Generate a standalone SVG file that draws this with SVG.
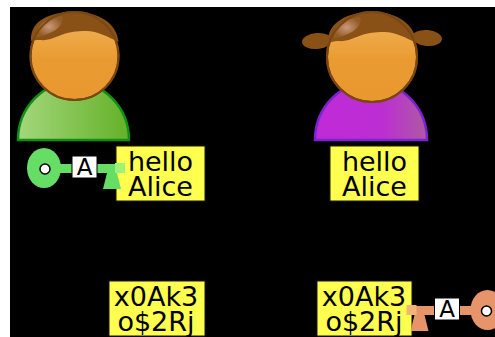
<svg xmlns="http://www.w3.org/2000/svg" xmlns:xlink="http://www.w3.org/1999/xlink" width="495" height="337" viewBox="0 0 495 337">
  <style>
    .face { stroke: #7a4612; stroke-width: 2; }
    .hair { fill: #8a5116; }
    .msg rect { fill: #ffff4f; stroke: #1a1a00; stroke-width: 1; }
    .msg text { font-family: "DejaVu Sans", sans-serif; font-size: 27px; fill: #000; text-anchor: middle; }
    .tag rect { fill: #fff; stroke: #000; stroke-width: 1; }
    .tag text { font-family: "DejaVu Sans", sans-serif; font-size: 23px; fill: #000; text-anchor: middle; }
    .key-green { fill: #66de66; color: #9cf27a; }
    .key-orange { fill: #e7946a; color: #f2b577; }
  </style>
  <defs>
    <linearGradient id="skin" x1="0" y1="0" x2="0" y2="1">
      <stop offset="0" stop-color="#f2b65c"/>
      <stop offset="0.55" stop-color="#e99a30"/>
      <stop offset="1" stop-color="#e8982e"/>
    </linearGradient>
    <linearGradient id="shirt-green" x1="0" y1="0" x2="1" y2="0">
      <stop offset="0" stop-color="#a3d77c"/>
      <stop offset="1" stop-color="#64b128"/>
    </linearGradient>
    <linearGradient id="shirt-purple" x1="0" y1="0" x2="1" y2="0">
      <stop offset="0" stop-color="#c02ad8"/>
      <stop offset="0.6" stop-color="#bc2ed2"/>
      <stop offset="1" stop-color="#ae5aa4"/>
    </linearGradient>
    <radialGradient id="shine" cx="0.5" cy="0.5" r="0.5">
      <stop offset="0" stop-color="#e6b8a8" stop-opacity="0.7"/>
      <stop offset="1" stop-color="#e6b8a8" stop-opacity="0.1"/>
    </radialGradient>
    <!-- key pointing right; shaft axis at y=168.5 -->
    <g id="key">
      <ellipse cx="44" cy="168" rx="17" ry="20"/>
      <rect x="55" y="164" width="62" height="9"/>
      <path d="M107,173 L117,173 L121,189 L103,189 Z"/>
      <rect x="115" y="163" width="10" height="10" fill="currentColor"/>
      <circle cx="45" cy="169" r="5" fill="#fff" stroke="#000" stroke-width="1.5"/>
    </g>
  </defs>

  <rect x="10" y="7" width="485" height="330" fill="#000"/>

  <!-- sender with green shirt -->
  <g id="person-bob">
    <path d="M18,140 A55.5,58 0 0 1 129,140 Z" fill="url(#shirt-green)" stroke="#109010" stroke-width="2.5"/>
    <circle class="face" cx="74.5" cy="56" r="44" fill="url(#skin)"/>
    <path class="hair" d="M31,41 C30,20 50,12 74.5,12 C100,12 117,24 118.5,42 C108,37 98,31 86,31 C76,31 70,32 64,34 C56,37 48,41 40,40 C36,40 33,40 31,41 Z"/>
    <path d="M36,37 C37,24 48,17 62,16 C64,22 60,28 52,32 C46,35 40,37 36,37 Z" fill="url(#shine)"/>
    <circle cx="74.5" cy="56" r="44" fill="none" class="face"/>
  </g>

  <!-- recipient with pigtails and purple shirt -->
  <g id="person-alice">
    <path d="M315,140 A56,58 0 0 1 427,140 Z" fill="url(#shirt-purple)" stroke="#7d22d0" stroke-width="2.5"/>
    <ellipse class="hair" cx="317" cy="41" rx="15" ry="8" transform="rotate(-5 317 41)"/>
    <ellipse class="hair" cx="427" cy="38" rx="15" ry="8" transform="rotate(5 427 38)"/>
    <circle class="face" cx="372" cy="57" r="45" fill="url(#skin)"/>
    <path class="hair" d="M328,43 C327,22 348,12 372,12 C398,12 415,25 416.5,43 C406,38 396,32 384,32 C374,32 368,33 362,35 C354,38 346,42 338,41 C334,41 331,42 328,43 Z"/>
    <path d="M333,38 C334,25 345,18 360,17 C362,23 358,29 350,33 C344,36 338,38 333,38 Z" fill="url(#shine)"/>
    <circle cx="372" cy="57" r="45" fill="none" class="face"/>
  </g>

  <!-- plaintext messages -->
  <g id="msg-plain-left" class="msg">
    <rect x="116" y="146" width="89" height="55"/>
    <text x="160.5" y="171">hello<tspan x="160.5" dy="25">Alice</tspan></text>
  </g>
  <g id="msg-plain-right" class="msg">
    <rect x="330" y="146" width="89" height="55"/>
    <text x="374.5" y="171">hello<tspan x="374.5" dy="25">Alice</tspan></text>
  </g>

  <!-- ciphertext messages -->
  <g id="msg-cipher-left" class="msg">
    <rect x="109" y="281" width="96" height="55"/>
    <text x="156" y="306">x0Ak3<tspan x="156" dy="25">o$2Rj</tspan></text>
  </g>
  <g id="msg-cipher-right" class="msg">
    <rect x="317" y="281" width="95" height="55"/>
    <text x="364" y="306">x0Ak3<tspan x="364" dy="25">o$2Rj</tspan></text>
  </g>

  <!-- Alice's public key -->
  <g id="key-public" class="key-green">
    <use xlink:href="#key"/>
    <g class="tag">
      <rect x="72" y="156" width="25" height="22"/>
      <text x="84.5" y="175">A</text>
    </g>
  </g>

  <!-- Alice's private key (mirrored) -->
  <g id="key-private" class="key-orange">
    <use xlink:href="#key" transform="translate(531.5,142) scale(-1,1)"/>
    <g class="tag">
      <rect x="434.5" y="298" width="25" height="22"/>
      <text x="447" y="317">A</text>
    </g>
  </g>
</svg>
